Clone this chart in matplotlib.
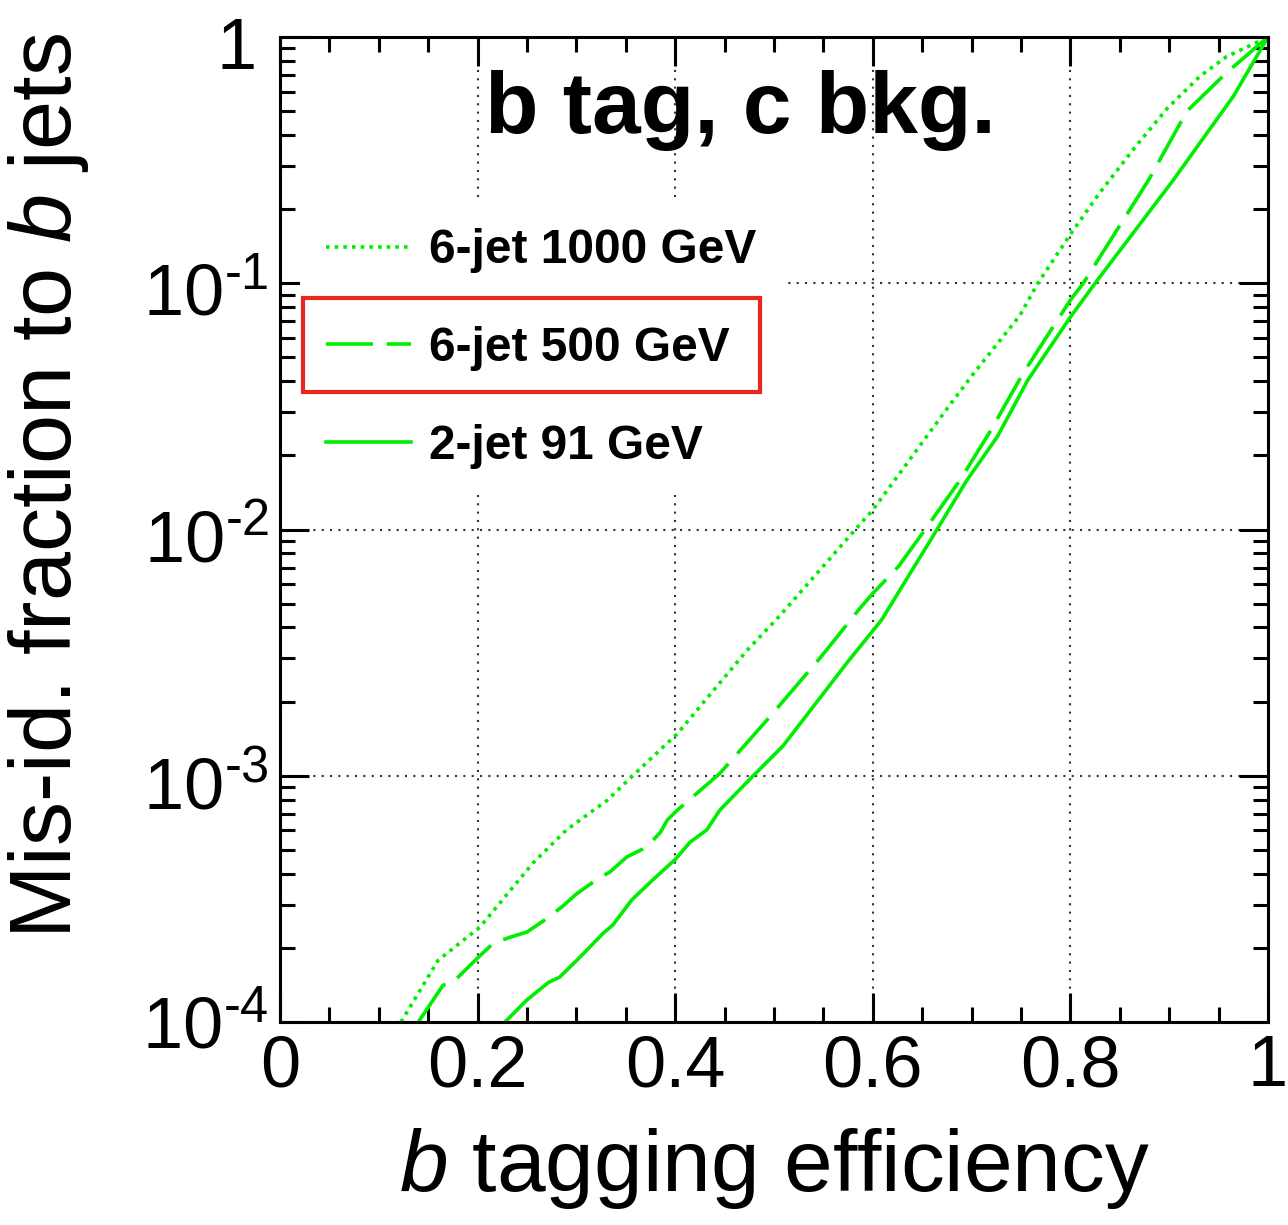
import numpy as np
import matplotlib
matplotlib.use("Agg")
import matplotlib.pyplot as plt
from matplotlib.patches import Rectangle
from matplotlib.transforms import ScaledTranslation
from matplotlib.ticker import FixedLocator, LogLocator, MultipleLocator, NullFormatter

plt.rcParams['font.family'] = ['Liberation Sans', 'DejaVu Sans']
plt.rcParams['mathtext.fontset'] = 'custom'
plt.rcParams['mathtext.rm'] = 'Liberation Sans'
plt.rcParams['mathtext.it'] = 'Liberation Sans:italic'
plt.rcParams['mathtext.bf'] = 'Liberation Sans:bold'

# b tagging efficiency vs mis-id fraction (c background)
eff_6j_1000 = [0.1225, 0.16, 0.2024, 0.256, 0.29, 0.331, 0.357, 0.402, 0.473, 0.506, 0.587,
               0.6, 0.675, 0.702, 0.749, 0.767, 0.80, 0.83, 0.865, 0.898, 0.931, 0.958, 1.0]
mis_6j_1000 = [1.0e-4, 1.78e-4, 2.43e-4, 4.42e-4, 6.03e-4, 7.94e-4, 1.0e-3, 1.48e-3, 3.24e-3, 4.47e-3, 1.05e-2,
               1.20e-2, 3.09e-2, 4.30e-2, 7.41e-2, 0.1, 0.158, 0.234, 0.355, 0.513, 0.692, 0.832, 1.0]

eff_6j_500 = [0.140, 0.165, 0.175, 0.2024, 0.216, 0.233, 0.25, 0.27, 0.286, 0.30, 0.321, 0.334,
              0.351, 0.371, 0.385, 0.392, 0.402, 0.445, 0.496, 0.547, 0.567, 0.587, 0.6, 0.626,
              0.653, 0.688, 0.719, 0.752, 0.8, 0.813, 0.857, 0.879, 0.918, 0.958, 1.0]
mis_6j_500 = [1.0e-4, 1.41e-4, 1.45e-4, 1.86e-4, 2.09e-4, 2.21e-4, 2.32e-4, 2.63e-4, 2.95e-4, 3.31e-4,
              3.80e-4, 4.07e-4, 4.68e-4, 5.13e-4, 5.89e-4, 6.61e-4, 7.24e-4, 1.02e-3, 1.74e-3, 3.02e-3,
              3.80e-3, 4.79e-3, 5.50e-3, 7.08e-3, 1.0e-2, 1.58e-2, 2.51e-2, 4.30e-2, 8.55e-2, 0.1,
              0.19, 0.262, 0.5, 0.716, 1.0]

eff_2j_91 = [0.2277, 0.25, 0.272, 0.283, 0.304, 0.327, 0.337, 0.356, 0.378, 0.4, 0.415, 0.432,
             0.445, 0.479, 0.509, 0.574, 0.609, 0.665, 0.695, 0.726, 0.757, 0.8, 0.825, 0.904,
             0.965, 1.0]
mis_2j_91 = [1.0e-4, 1.23e-4, 1.45e-4, 1.52e-4, 1.84e-4, 2.29e-4, 2.48e-4, 3.13e-4, 3.80e-4, 4.57e-4,
             5.37e-4, 6.03e-4, 7.24e-4, 1.0e-3, 1.32e-3, 2.88e-3, 4.30e-3, 1.0e-2, 1.58e-2, 2.38e-2,
             4.05e-2, 7.29e-2, 0.1, 0.262, 0.575, 1.0]

x_ticks = [0, 0.2, 0.4, 0.6, 0.8, 1.0]
x_ticklabels = ['0', '0.2', '0.4', '0.6', '0.8', '1']
y_ticks = [1e-4, 1e-3, 1e-2, 1e-1, 1]
y_ticklabels = [r'$10^{\text{-}4}$', r'$10^{\text{-}3}$', r'$10^{\text{-}2}$', r'$10^{\text{-}1}$', '1']

green = '#00ee00'

fig = plt.figure(figsize=(12.88, 12.25), dpi=100)
ax = fig.add_axes([280 / 1288, 1 - 1022 / 1225, 988 / 1288, 985 / 1225])

ax.plot(eff_6j_1000, mis_6j_1000, color=green, lw=2.6, ls=(0, (1, 1.4)), label='6-jet 1000 GeV')
ax.plot(eff_6j_500, mis_6j_500, color=green, lw=2.6, ls=(0, (13, 3.8)), label='6-jet 500 GeV')
ax.plot(eff_2j_91, mis_2j_91, color=green, lw=2.6, ls='-', label='2-jet 91 GeV')

ax.set_yscale('log')
ax.set_xlim(0, 1)
ax.set_ylim(1e-4, 1)

ax.xaxis.set_major_locator(FixedLocator(x_ticks))
ax.set_xticklabels(x_ticklabels)
ax.xaxis.set_minor_locator(MultipleLocator(0.05))
ax.yaxis.set_major_locator(FixedLocator(y_ticks))
ax.set_yticklabels(y_ticklabels)
ax.yaxis.set_minor_locator(LogLocator(base=10, subs=np.arange(2, 10)))
ax.yaxis.set_minor_formatter(NullFormatter())

ax.tick_params(which='both', direction='in', top=True, right=True, width=2.2, color='black')
ax.tick_params(which='major', length=21, labelsize=52)
ax.tick_params(which='minor', length=10.5)
ax.tick_params(axis='x', which='major', pad=9)
ax.tick_params(axis='y', which='major', pad=8)
for s in ax.spines.values():
    s.set_linewidth(2.2)

# ROOT style: y labels sit a bit below their tick, the "1" a bit further left
for i, lbl in enumerate(ax.get_yticklabels()):
    dx = -0.12 if lbl.get_text() == '1' else 0.0
    dy = 0.0 if i == 0 else -0.06
    lbl.set_transform(lbl.get_transform() + ScaledTranslation(dx, dy, fig.dpi_scale_trans))

ax.grid(True, which='major', ls=(0, (1, 3)), color='#333333', lw=1.5)

ax.set_xlabel('$b$ tagging efficiency', fontsize=63)
ax.xaxis.set_label_coords(0.5, -0.106)
fig.text(49 / 1288, 1 - 33 / 1225, 'Mis-id. fraction to $b$ jets', rotation=90,
         ha='center', va='top', fontsize=63.5)

ax.text(0.2075, 0.9025, 'b tag, c bkg.', transform=ax.transAxes, fontsize=63,
        fontweight='bold', va='baseline', ha='left')

leg = ax.legend(loc='upper left', bbox_to_anchor=(0.0202, 0.8325), borderaxespad=0,
                prop={'weight': 'bold', 'size': 34.5}, frameon=True, fancybox=False,
                framealpha=1, edgecolor='white', facecolor='white',
                handlelength=1.77, handletextpad=0.38, labelspacing=1.10, borderpad=0.55)
leg.get_frame().set_linewidth(0)

box = Rectangle((0.0233, 0.6396), 0.4625, 0.0954, transform=ax.transAxes, fill=False,
                edgecolor='#e8281e', lw=3, zorder=10, clip_on=False)
ax.add_patch(box)

fig.savefig('out.png', dpi=100)
